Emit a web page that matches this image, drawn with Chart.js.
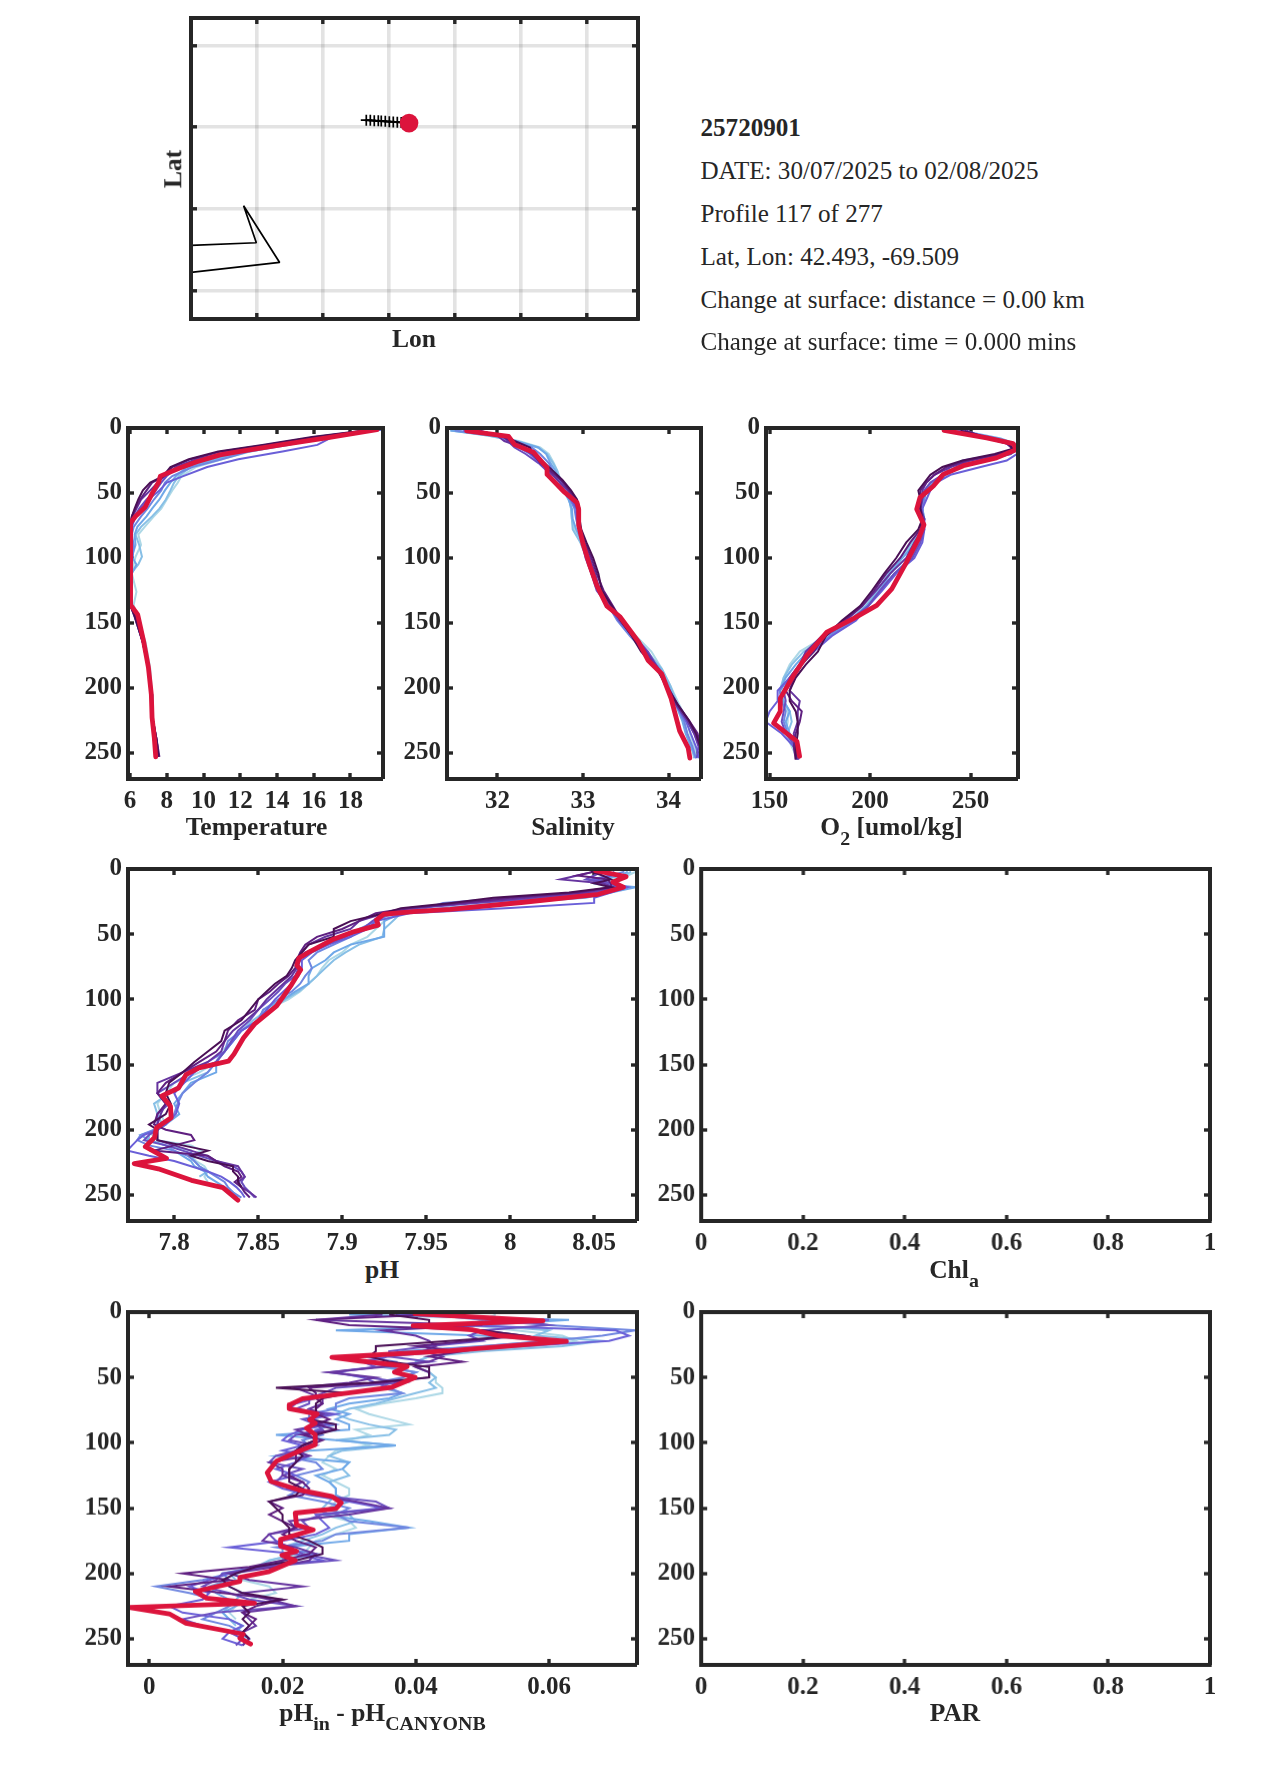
<!DOCTYPE html>
<html><head><meta charset="utf-8">
<script src="https://cdn.jsdelivr.net/npm/chart.js@4"></script>
<style>
html,body{margin:0;padding:0;background:#fff}
#root{position:relative;width:1275px;height:1771px;overflow:hidden;background:#fff;font-family:"Liberation Serif",serif;color:#262626}
canvas{position:absolute}
.t{position:absolute;white-space:nowrap;transform:translate(-50%,-50%);font-weight:bold;font-size:25.5px;line-height:1}
.i{position:absolute;white-space:nowrap;transform:translateY(-50%);font-size:25.1px;line-height:1}
.s{font-size:.78em;position:relative;top:.5em}
</style></head><body><div id="root"></div>
<script>
const infoLines=["25720901","DATE: 30/07/2025 to 02/08/2025","Profile 117 of 277","Lat, Lon: 42.493, -69.509","Change at surface: distance = 0.00 km","Change at surface: time = 0.000 mins"];
const depthTicks=[0,50,100,150,200,250];
const tempTicks=[6,8,10,12,14,16,18];
const salTicks=[32,33,34];
const o2Ticks=[150,200,250];
const phTicks=[7.8,7.85,7.9,7.95,8,8.05];
const diffTicks=[0,0.02,0.04,0.06];
const unitTicks=[0,0.2,0.4,0.6,0.8,1];
const lonTicks=[-69.74,-69.64,-69.54,-69.44,-69.34,-69.24];
const latTicks=[42.288,42.388,42.488,42.588];
const coastLon=[-69.8394,-69.7404,-69.7597,-69.7051,-69.8394];
const coastLat=[42.3431,42.3464,42.3917,42.3223,42.31];
const trackLon=[-69.5738,-69.5677,-69.5617,-69.5556,-69.5511,-69.545,-69.5389,-69.5329,-69.5268,-69.5208];
const trackLat=[42.4966,42.4964,42.496,42.4958,42.4955,42.4952,42.4948,42.4945,42.4942,42.4938];
const nowLon=[-69.509];
const nowLat=[42.493];
const shades=['#add8e6','#87bfe6','#6fa8e8','#6f86e0','#6a5fd8','#6a4fc0','#66349f','#5f1f80','#4a0f55'];
const crimson='#dc143c';

const tempD=[1,7,13,18,24,30,37,42,48,55,62,68,76,82,90,99,105,112,126,136,145,165,185,205,225,240,253];
const temp1=[19.7,16.9,14.3,12.6,11.0,9.6,8.8,8.6,8.3,8.0,7.7,7.3,6.8,6.45,6.6,6.3,6.2,6.1,6.35,6.2,6.4,6.85,7.1,7.2,7.25,7.3,7.45];
const temp2=[19.75,16.8,14.2,12.4,10.8,9.3,8.65,8.4,8.2,7.95,7.6,7.2,6.6,6.3,6.5,6.65,6.45,6.05,6.1,6.1,6.35,6.8,7.05,7.2,7.25,7.3,7.4];
const temp3=[19.8,16.7,14.1,12.2,10.5,9.1,8.5,8.2,7.9,7.6,7.2,6.9,6.4,6.25,6.3,6.1,6.35,6.1,6.05,6.05,6.3,6.75,7.0,7.15,7.2,7.3,7.45];
const temp4=[19.7,16.6,14.6,12.5,11,9.4,8.3,7.9,7.7,7.3,6.95,6.6,6.2,6.1,6.2,6.15,6.05,6,6.0,6.05,6.25,6.7,7,7.15,7.2,7.3,7.4];
const temp5=[19.7,17,16.2,14.3,11.9,10.2,8.9,8.0,7.6,7.0,6.6,6.3,6.1,6.05,6.05,6.05,6,6,6,6.05,6.3,6.7,7,7.15,7.25,7.35,7.45];
const temp6=[19.6,16.6,14.0,11.8,10,8.6,8.0,7.7,7.4,6.9,6.5,6.25,6.05,6,6.05,6,6,6,6,6.05,6.25,6.7,7,7.15,7.25,7.4,7.5];
const temp7=[19.5,16.3,13.7,11.5,9.6,8.5,7.9,7.5,7.1,6.6,6.35,6.15,6,6,6,6,6,6,6,6.05,6.3,6.7,7,7.15,7.25,7.45,7.55];
const temp8=[19.4,16.1,13.4,11,9.3,8.3,7.85,7.2,6.9,6.55,6.3,6.1,6,6,6,6,6,6,6,6.05,6.3,6.7,7,7.15,7.25,7.45,7.6];
const temp9=[19.3,15.9,13.2,10.8,9.2,8.2,7.8,7.1,6.7,6.45,6.25,6.1,6,6,6,6,6,6,6,6.05,6.25,6.7,7,7.15,7.25,7.45,7.55];
const tempRedD=[1.3,7.6,13,18,20.7,26,30.6,37,41.6,50.5,60.7,68,73.5,82,100,123,136,143.6,164,184,205,222.7,238,253];
const tempRed=[19.44,16.7,14.2,12,10.9,9.64,8.74,7.65,7.56,7.2,6.83,6.3,6,6,6.05,6.02,6.05,6.42,6.74,7.0,7.16,7.2,7.32,7.4];

const salD=[2,6,10,15,20,27,33,40,48,55,62,70,78,88,100,112,125,137,148,160,172,185,198,212,225,235,245,254];
const sal1=[31.5,31.9,32.25,32.5,32.6,32.66,32.7,32.74,32.8,32.84,32.86,32.87,32.9,32.97,33.05,33.12,33.2,33.3,33.46,33.62,33.8,33.92,34.02,34.12,34.22,34.25,34.3,34.33];
const sal2=[31.45,31.9,32.2,32.47,32.58,32.65,32.7,32.73,32.79,32.84,32.86,32.87,32.88,32.97,33.04,33.1,33.2,33.3,33.42,33.58,33.75,33.92,34.02,34.1,34.18,34.22,34.27,34.3];
const sal3=[31.45,31.95,32.22,32.48,32.57,32.62,32.68,32.72,32.77,32.83,32.87,32.88,32.92,32.99,33.05,33.1,33.18,33.3,33.42,33.57,33.72,33.9,34,34.08,34.16,34.2,34.26,34.32];
const sal4=[31.5,32.0,32.2,32.4,32.5,32.6,32.65,32.72,32.78,32.85,32.9,32.92,32.95,33,33.05,33.1,33.17,33.3,33.4,33.55,33.72,33.88,33.98,34.08,34.18,34.22,34.28,34.32];
const sal5=[31.6,32.05,32.15,32.25,32.38,32.5,32.58,32.65,32.75,32.86,32.92,32.93,32.96,33.0,33.04,33.1,33.18,33.32,33.42,33.58,33.74,33.88,33.98,34.08,34.2,34.26,34.32,34.36];
const sal6=[31.7,32.05,32.12,32.2,32.33,32.48,32.58,32.66,32.76,32.88,32.93,32.94,32.96,32.99,33.03,33.1,33.16,33.3,33.42,33.6,33.76,33.88,33.98,34.1,34.22,34.3,34.35,34.33];
const sal7=[31.8,32.0,32.08,32.3,32.4,32.52,32.6,32.7,32.82,32.9,32.94,32.95,32.96,33.0,33.08,33.14,33.2,33.33,33.44,33.6,33.74,33.88,33.96,34.08,34.22,34.3,34.36,34.38];
const sal8=[31.75,32.05,32.15,32.32,32.42,32.5,32.62,32.74,32.84,32.92,32.95,32.95,32.97,33.02,33.1,33.16,33.24,33.35,33.45,33.58,33.7,33.87,33.98,34.1,34.24,34.34,34.37,34.38];
const sal9=[31.7,32.1,32.2,32.38,32.42,32.55,32.65,32.76,32.86,32.93,32.96,32.96,32.98,33.04,33.12,33.18,33.22,33.34,33.44,33.57,33.68,33.86,33.97,34.1,34.24,34.32,34.37,34.37];
const salRedD=[2.3,6.4,12.8,18.6,30.6,35.7,48.5,57.4,62.5,75,89,106,121,137,145,164.5,178.6,189,208,233,246,254];
const salRed=[31.64,32.13,32.2,32.42,32.58,32.58,32.77,32.93,32.95,32.95,33,33.08,33.16,33.28,33.43,33.65,33.76,33.92,34.03,34.13,34.23,34.25];

const o2D=[2,8,12,16,20,25,30,36,42,48,55,62,70,78,88,100,112,125,137,148,160,172,182,192,202,210,218,226,235,245,255];
const o21=[243,262,270,273,268,255,245,238,232,228,226,226,226,226,222,216,210,204,197,190,178,165,160,157,156,156,159,159,158,161,164];
const o22=[243,262,270,272,267,252,244,237,231,227,226,226,227,226,221,215,209,204,198,191,180,167,161,157,155,157,160,161,159,162,164];
const o23=[245,265,272,274,270,256,244,236,231,228,226,226,227,226,223,216,210,205,198,190,180,169,163,158,155,157,160,158,160,163,164];
const o24=[243,263,270,272,265,246,240,236,232,228,227,226,226,226,225,220,212,205,199,192,180,171,165,160,155,156,158,157,159,162,164];
const o25=[244,262,271,274,273,268,255,240,233,230,228,226,226,227,226,222,213,206,199,193,181,172,165,160,154,154,150,148,156,162,164];
const o26=[246,260,269,272,270,255,243,236,230,227,226,225,227,227,225,221,212,205,199,190,178,170,165,160,157,158,157,156,158,163,164.5];
const o27=[248,258,268,271,265,250,240,232,228,226,226,225,227,226,222,218,210,203,196,188,176,168,165,162,160,165,164,164,162,163,164];
const o28=[247,259,268,271,265,248,238,232,228,225,225,225,226,225,220,215,208,202,196,187,177,172,166,162,158,161,166,165,163,162,163];
const o29=[245,260,269,271,262,246,236,230,227,224,225,225,226,224,218,213,207,201,195,186,178,174,168,163,160,160,163,164,164,163,163];
const o2RedD=[1.8,7.6,12,16.6,23,29,35.7,44.6,53.6,62.5,74.5,85.5,103,123.7,136.5,146.7,157,175,190,208,218,227,241,252.5];
const o2Red=[236.8,258,271.2,272.8,262.9,246.4,236.4,231.5,224.8,223.2,226.8,224,218.2,210.8,203.3,191.7,178.5,168.5,162,155.3,155.3,152,163.6,164.9];

const phD=[2,5,8,11,14,18,22,26,30,34,40,46,52,58,64,70,76,82,88,94,100,108,116,124,132,140,148,156,164,172,180,188,196,200,204,208,212,216,220,224,228,232,236,240,244,248,252];
const ph1=[8.075,8.07,8.055,8.05,8.06,8.05,8.03,7.99,7.965,7.93,7.925,7.92,7.915,7.905,7.9,7.892,7.888,7.885,7.88,7.875,7.868,7.855,7.847,7.84,7.835,7.828,7.825,7.815,7.8,7.795,7.79,7.792,7.795,7.79,7.787,7.79,7.81,7.816,7.81,7.813,7.818,7.82,7.818,7.82,null,null,null];
const ph2=[8.072,8.068,8.05,8.052,8.065,8.055,8.04,8.0,7.965,7.935,7.93,7.925,7.924,7.91,7.902,7.895,7.89,7.885,7.88,7.874,7.866,7.857,7.847,7.84,7.835,7.83,7.825,7.82,7.805,7.797,7.788,7.79,7.793,7.79,7.785,7.785,7.795,7.81,7.81,7.812,7.815,7.82,7.815,null,null,null,null];
const ph3=[8.07,8.066,8.05,8.05,8.075,8.06,8.045,8.0,7.96,7.935,7.925,7.925,7.925,7.905,7.895,7.89,7.882,7.88,7.88,7.872,7.865,7.853,7.85,7.84,7.835,7.83,7.825,7.825,7.81,7.805,7.8,7.803,7.795,7.79,7.78,7.785,7.795,7.8,7.805,7.81,7.812,7.818,7.82,7.825,7.83,7.835,7.838];
const ph4=[8.068,8.06,8.048,8.06,8.065,8.055,8.0,7.96,7.95,7.93,7.92,7.91,7.905,7.895,7.885,7.88,7.882,7.878,7.875,7.87,7.862,7.853,7.85,7.84,7.832,7.83,7.825,7.82,7.812,7.805,7.802,7.8,7.792,7.788,7.78,7.778,7.785,7.8,7.808,7.812,7.815,7.82,7.825,7.83,7.832,7.835,7.84];
const ph5=[8.062,8.06,8.05,8.06,8.07,8.06,8.05,8.05,8.0,7.94,7.92,7.915,7.905,7.892,7.882,7.876,7.876,7.874,7.87,7.865,7.86,7.855,7.85,7.84,7.835,7.83,7.82,7.812,7.806,7.8,7.803,7.801,7.795,7.79,7.782,7.778,7.775,7.772,7.785,7.8,7.81,7.82,7.828,7.833,7.837,7.84,7.842];
const ph6=[8.055,8.05,8.045,8.06,8.065,8.05,8.02,7.98,7.945,7.925,7.918,7.912,7.902,7.89,7.878,7.874,7.874,7.872,7.866,7.862,7.857,7.85,7.845,7.838,7.834,7.83,7.825,7.81,7.8,7.79,7.797,7.79,7.79,7.79,7.785,7.782,7.795,7.805,7.815,7.825,7.835,7.84,7.842,7.84,7.842,7.845,7.848];
const ph7=[8.05,8.04,8.03,8.055,8.062,8.045,8.01,7.975,7.94,7.925,7.91,7.905,7.89,7.88,7.876,7.875,7.873,7.87,7.865,7.86,7.855,7.85,7.843,7.835,7.83,7.828,7.82,7.805,7.79,7.79,7.795,7.792,7.79,7.79,7.79,7.79,7.8,7.81,7.82,7.825,7.838,7.84,7.842,7.838,7.84,7.845,7.849];
const ph8=[8.05,8.04,8.058,8.06,8.06,8.04,8.0,7.97,7.94,7.92,7.91,7.9,7.885,7.878,7.875,7.873,7.872,7.868,7.862,7.857,7.85,7.848,7.838,7.832,7.83,7.825,7.815,7.805,7.795,7.79,7.795,7.79,7.788,7.795,7.81,7.812,7.8,7.788,7.82,7.825,7.83,7.838,7.84,7.836,7.84,7.842,7.845];
const ph9=[8.048,8.055,8.06,8.05,8.06,8.035,7.99,7.965,7.935,7.925,7.905,7.895,7.895,7.88,7.876,7.872,7.87,7.867,7.86,7.855,7.85,7.845,7.84,7.83,7.828,7.82,7.812,7.805,7.797,7.795,7.798,7.795,7.785,7.79,7.79,7.79,7.805,7.82,7.81,7.82,7.835,7.835,7.838,7.838,7.84,null,null];
const phRedD=[1.3,5.9,10,14,19.4,25.5,30.9,32.7,34.7,39,43,48,54.3,63.3,68.4,74,77.3,88.8,105,119,129.6,142,147.4,152.6,157.7,168,174,182,190.8,198.5,206,213,222,226,230,238.8,244.4,254];
const phRed=[8.0509,8.069,8.0612,8.0674,8.0524,8.008,7.9644,7.9424,7.9248,7.9204,7.9215,7.9072,7.894,7.8808,7.8742,7.873,7.8753,7.8698,7.861,7.8478,7.8412,7.8356,7.8323,7.8147,7.807,7.8026,7.7927,7.7978,7.7982,7.7894,7.7883,7.7828,7.7954,7.7762,7.7905,7.8103,7.829,7.8379];

const diffD=[2,6,10,14,18,22,26,30,34,38,42,46,50,54,58,62,66,70,74,78,82,86,90,94,98,102,106,110,115,120,125,130,135,140,145,150,155,160,165,170,175,180,185,190,195,200,205,210,215,220,225,230,235,240,245,250,255];
const diff1=[.052,.05,.048,.055,.062,.064,.058,.048,.042,.04,.04,.042,.043,.043,.044,.044,.04,.035,.031,.033,.036,.039,.031,.033,.03,.033,.028,.027,.026,.028,.026,.028,.03,.03,.028,.027,.026,.03,.031,.028,.025,.024,.023,.018,.017,.013,.014,.018,.019,.015,.013,.012,.013,null,null,null,null];
const diff2=[.045,.05,.05,.06,.058,.068,.062,.05,.042,.04,.04,.042,.043,.042,.043,.04,.037,.034,.03,.028,.03,.033,.037,.036,.028,.037,.029,.027,.03,.029,.03,.027,.028,.028,.027,.026,.03,.031,.028,.026,.023,.02,.022,.018,.016,.012,.013,.012,.014,.013,.012,.011,.012,.013,null,null,null];
const diff3=[.03,.063,.05,.028,.05,.06,.05,.038,.034,.036,.035,.04,.038,.036,.035,.038,.036,.03,.027,.03,.028,.03,.03,.019,.028,.037,.024,.019,.03,.029,.025,.027,.028,.028,.03,.027,.026,.033,.039,.03,.03,.02,.02,.02,.016,.011,.012,.009,.01,.012,.013,.011,.012,.014,.013,.015,null];
const diff4=[.042,.05,.06,.073,.068,.06,.05,.04,.032,.037,.036,.04,.038,.034,.036,.038,.03,.028,.028,.024,.024,.028,.025,.026,.023,.024,.022,.02,.025,.026,.022,.024,.023,.021,.026,.03,.028,.03,.039,.028,.026,.019,.025,.02,.018,.012,.008,.001,.006,.01,.012,.01,.008,.012,.014,.015,.014];
const diff5=[.037,.06,.046,.07,.072,.069,.056,.045,.036,.032,.034,.028,.032,.034,.036,.03,.025,.022,.021,.028,.024,.027,.023,.021,.02,.023,.02,.024,.022,.019,.022,.018,.02,.024,.03,.035,.025,.026,.027,.025,.02,.012,.022,.026,.016,.012,.009,.006,.009,.008,.003,.005,.012,.014,.012,.011,.014];
const diff6=[.04,.055,.06,.05,.048,.05,.042,.036,.036,.042,.034,.027,.033,.038,.028,.026,.024,.024,.022,.027,.023,.025,.026,.022,.021,.025,.022,.019,.018,.023,.02,.019,.022,.025,.034,.036,.026,.023,.024,.018,.019,.021,.023,.028,.017,.011,.01,.008,.012,.015,.022,.01,.005,.008,.012,.014,.013];
const diff7=[.035,.025,.05,.035,.04,.042,.043,.041,.044,.042,.035,.027,.034,.03,.022,.024,.026,.026,.024,.026,.024,.026,.022,.024,.025,.023,.022,.024,.018,.02,.02,.023,.021,.025,.031,.036,.03,.021,.022,.018,.017,.022,.025,.024,.019,.012,.015,.023,.014,.018,.022,.014,.015,.016,.014,.015,.014];
const diff8=[.042,.025,.03,.05,.056,.048,.04,.047,.042,.047,.04,.042,.042,.035,.024,.025,.025,.026,.025,.025,.027,.025,.028,.023,.026,.024,.022,.022,.022,.021,.021,.023,.024,.023,.018,.02,.018,.02,.022,.02,.022,.025,.024,.02,.015,.005,.012,.003,.011,.02,.016,.014,.016,.015,.014,.014,null];
const diff9=[.036,.042,.042,.05,.056,.045,.034,.034,.033,.036,.042,.042,.042,.033,.019,.03,.026,.025,.025,.025,.024,.028,.028,.025,.025,.023,.022,.023,.022,.021,.021,.021,.023,.022,.018,.019,.02,.02,.021,.021,.024,.026,.026,.022,.016,.013,.011,.012,.014,.02,.014,.015,.014,.015,.014,.015,null];
const diffRedD=[1.3,6.6,10.5,13.5,17.9,22.4,29.6,34.7,37.2,41.6,46,50,57.7,62,66.3,70.9,74,78,82.4,85,88.8,93.9,101.5,106.6,114,123,129.6,136,141,146,150.5,153.8,162.8,166.6,174,179,183,186,190,198.5,203,206,213.8,218.9,222.7,226,230.9,238,246.4,249.5,254];
const diffRed=[.03986,.0591,.0396,.0484,.0523,.0626,.0451,.0274,.0313,.0387,.0368,.0399,.0363,.0296,.023,.0211,.021,.0252,.0241,.0249,.0236,.0249,.0249,.0224,.0191,.0177,.0183,.0224,.0274,.0288,.028,.0219,.0221,.0246,.0197,.0197,.0221,.0199,.0219,.018,.0136,.0136,.0069,.0086,.0158,-.003,.003,.0055,.0141,.0136,.0152];

const FONT='"Liberation Serif", serif';
const INK='#262626';
const root=document.getElementById('root');
const ML=80,MB=34,MR=24,MT=24;

function pairs(xs,ys){const o=[];xs.forEach((x,i)=>{if(x!==null)o.push({x:x,y:ys[i]});});return o;}
function profile(depth,series,redD,red){
  const ds=series.map((s,i)=>({data:pairs(s,depth),borderColor:shades[i],borderWidth:2,showLine:true,pointRadius:0,order:series.length-i,tension:0}));
  ds.push({data:pairs(red,redD),borderColor:crimson,borderWidth:4.8,showLine:true,pointRadius:0,order:0,tension:0,borderJoinStyle:'round',borderCapStyle:'round'});
  return ds;
}
function panel(b,xr,yr,xt,yt,datasets,isMap){
  const c=document.createElement('canvas');
  const W=b.r-b.l+ML+MR,H=b.b-b.t+MT+MB;
  c.width=W;c.height=H;
  c.style.left=(b.l-ML)+'px';c.style.top=(b.t-MT)+'px';c.style.width=W+'px';c.style.height=H+'px';
  root.appendChild(c);
  const tf={family:FONT,size:25,weight:'bold'};
  const gcol=isMap?'rgba(38,38,38,0.13)':'rgba(0,0,0,0)';
  const g={color:gcol,lineWidth:isMap?3.6:0,drawOnChartArea:!!isMap,drawTicks:true,tickLength:-6,tickColor:INK,tickWidth:3.4};
  const br={display:true,color:INK,width:4,z:5};
  const fixX=s=>{s.height=MB;};
  const fixY=s=>{s.width=ML;};
  const set=v=>s=>{s.ticks=v.map(q=>({value:q}));};
  const lab=v=>isMap?'':String(v);
  new Chart(c,{type:'scatter',data:{datasets:datasets},options:{
    responsive:false,animation:false,devicePixelRatio:1,
    layout:{padding:{top:MT,right:MR,left:0,bottom:0},autoPadding:false},
    plugins:{legend:{display:false},tooltip:{enabled:false}},
    scales:{
      x:{type:'linear',position:'bottom',min:xr[0],max:xr[1],afterBuildTicks:set(xt),afterFit:fixX,grid:g,border:br,
         ticks:{display:!isMap,font:tf,color:INK,padding:13.5,autoSkip:false,maxRotation:0,callback:lab}},
      x2:{type:'linear',position:'top',min:xr[0],max:xr[1],afterBuildTicks:set(xt),afterFit:s=>{s.height=0;},grid:Object.assign({},g,{drawOnChartArea:false}),border:br,ticks:{display:false}},
      y:{type:'linear',position:'left',reverse:!isMap,min:yr[0],max:yr[1],afterBuildTicks:set(yt),afterFit:fixY,grid:g,border:br,
         ticks:{display:!isMap,font:tf,color:INK,padding:12,autoSkip:false,callback:lab}},
      y2:{type:'linear',position:'right',reverse:!isMap,min:yr[0],max:yr[1],afterBuildTicks:set(yt),afterFit:s=>{s.width=0;},grid:Object.assign({},g,{drawOnChartArea:false}),border:br,ticks:{display:false}}
    }}});
}
function label(html,x,y,rot){
  const d=document.createElement('div');d.className='t';d.innerHTML=html;d.style.left=x+'px';d.style.top=y+'px';
  if(rot)d.style.transform='translate(-50%,-50%) rotate(-90deg)';
  root.appendChild(d);
}

const R1={t:424.6,b:779.3},R2={t:865.6,b:1221.3},R3={t:1309,b:1664.5};
const D=[0,270];
panel({l:190.7,r:637.7,t:18,b:319.3},[-69.8394,-69.1621],[42.253,42.6218],lonTicks,latTicks,[
  {data:pairs(nowLon,nowLat),pointStyle:'circle',pointRadius:9.3,backgroundColor:crimson,borderColor:crimson,borderWidth:0,order:0},
  {data:pairs(trackLon,trackLat),showLine:true,borderColor:'#000',borderWidth:1.7,pointStyle:'cross',pointRadius:5.5,pointBorderColor:'#000',pointBorderWidth:1.7,order:1},
  {data:pairs(coastLon,coastLat),showLine:true,borderColor:'#000',borderWidth:1.7,borderJoinStyle:'bevel',pointRadius:0,order:2}
],true);
label('Lon',414,339);label('Lat',172.5,169,true);
infoLines.forEach((s,i)=>{
  const d=document.createElement('div');d.className='i';d.textContent=s;
  if(i===0)d.style.fontWeight='bold';
  d.style.left='700.5px';d.style.top=[128,171,214,257,299.5,341.5][i]+'px';root.appendChild(d);
});
panel({l:127.7,r:383.3,...R1},[5.89,19.77],D,tempTicks,depthTicks,profile(tempD,[temp1,temp2,temp3,temp4,temp5,temp6,temp7,temp8,temp9],tempRedD,tempRed));
panel({l:446.7,r:701,...R1},[31.41,34.38],D,salTicks,depthTicks,profile(salD,[sal1,sal2,sal3,sal4,sal5,sal6,sal7,sal8,sal9],salRedD,salRed));
panel({l:765.7,r:1018.3,...R1},[148.2,273.6],D,o2Ticks,depthTicks,profile(o2D,[o21,o22,o23,o24,o25,o26,o27,o28,o29],o2RedD,o2Red));
panel({l:127.5,r:636.5,...R2},[7.7725,8.0755],D,phTicks,depthTicks,profile(phD,[ph1,ph2,ph3,ph4,ph5,ph6,ph7,ph8,ph9],phRedD,phRed));
panel({l:701,r:1209.5,...R2},[0,1],D,unitTicks,depthTicks,[]);
panel({l:127.5,r:636.5,...R3},[-0.0032,0.0732],D,diffTicks,depthTicks,profile(diffD,[diff1,diff2,diff3,diff4,diff5,diff6,diff7,diff8,diff9],diffRedD,diffRed));
panel({l:701,r:1209.5,...R3},[0,1],D,unitTicks,depthTicks,[]);
label('Temperature',256.5,826.5);
label('Salinity',573,826.5);
label('O<span class="s">2</span> [umol/kg]',891.5,827);
label('pH',382,1269.5);
label('Chl<span class="s">a</span>',954,1269.5);
label('pH<span class="s">in</span> - pH<span class="s">CANYONB</span>',382.5,1712.5);
label('PAR',955,1712.5);
</script>
</body></html>
